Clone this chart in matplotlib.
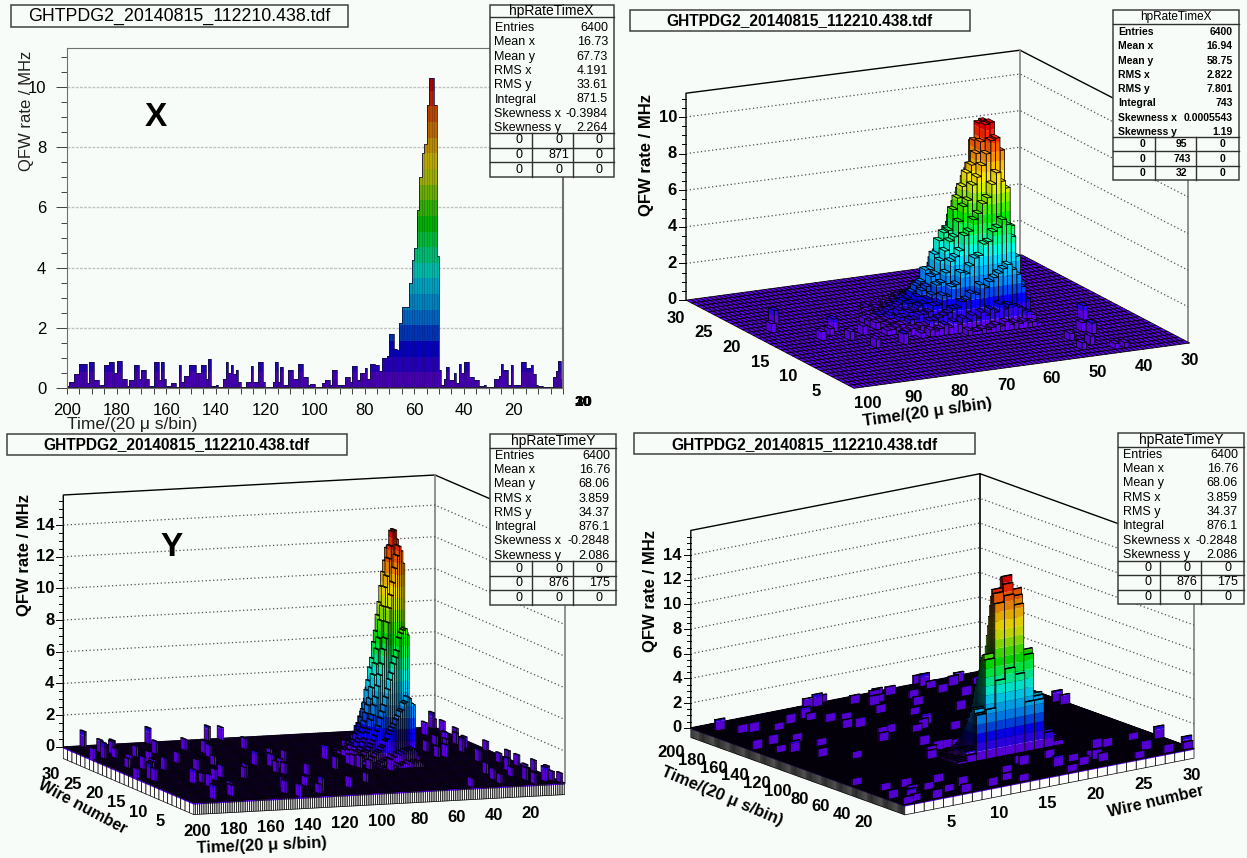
import matplotlib
matplotlib.use('Agg')
import matplotlib.pyplot as plt
import numpy as np
from matplotlib.collections import PolyCollection
from matplotlib.patches import Rectangle

plt.rcParams['font.family'] = ['Liberation Sans', 'DejaVu Sans']

BG = '#f8fcf9'
FILE_NAME = 'GHTPDG2_20140815_112210.438.tdf'
TIME_TITLE = 'Time/(20 \u03bc s/bin)'
Z_TITLE = 'QFW rate / MHz'

# rainbow palette, low to high
PALETTE = ['#6000f0', '#3000f8', '#0800ff', '#0048f4', '#0088ff', '#00b4ff', '#00dcff',
           '#00ffe4', '#00ff98', '#00ff48', '#00f000', '#44f000', '#90f000', '#d8f000',
           '#ffe800', '#ffc000', '#ff9000', '#ff6000', '#ff2800', '#f00000']

# top left panel: rate per time bin, first value is the bin at t = 200
hist_x = [
    .05, .2, .2, .45, .45, .8, .8, .8, .15, .85, .85, .25, .25, .1, .1, .75, .75, .85, .85, .5,
    .9, .9, .3, .3, .05, .25, .25, .75, .75, .3, .6, .6, .3, .05, .05, .85, .85, .25, .85, .3,
    .05, .05, .15, .15, .03, .75, .2, .4, .4, .78, .78, .78, .5, .5, .78, .78, .3, .95, .05, .05,
    .1, .03, .03, .3, .85, .5, .75, .45, .6, .2, .03, .03, .2, .2, .72, .2, .2, .85, .85, .2,
    .03, .03, .03, .2, .85, .2, .7, .1, .1, .6, .6, .3, .3, .8, .8, .35, .35, .1, .12, .12,
    .03, .03, .03, .15, .25, .25, .1, .6, .6, .1, .1, .1, .35, .35, .2, .72, .72, .25, .5, .5,
    .65, .3, .8, .8, .75, .75, .55, 1.0, 1.0, 1.05, 1.8, 1.8, 1.3, 1.26, 2.15, 2.7, 2.7, 2.7, 3.5, 4.25,
    4.65, 5.9, 7.0, 7.8, 8.1, 9.4, 10.3, 10.3, 9.4, 4.4, .6, .1, .3, .7, .25, .25, .5, .15, .8, .5,
    .85, .85, .35, .35, .28, .28, .05, .05, .1, .03, .03, .03, .3, .3, .4, .8, .6, .6, .1, .75,
    .1, .1, .1, .85, .85, .65, .65, .75, .45, .1, .08, .08, .03, .03, .03, .03, .35, .55, .9, .3,
]

# top right panel: peak rates, one row per time bin from t = 50, one column per wire from 10
x_peak_t0 = 50
x_peak_w0 = 10
x_peak = [
    [.2, .5, 1.2, 2.0, 3.1, 3.9, 4.3, 4.2, 3.6, 2.6, 1.5, .7, .2, .0],
    [.3, .7, 1.9, 3.4, 4.9, 6.6, 7.4, 7.1, 5.9, 4.4, 2.7, 1.1, .4, .1],
    [.3, .8, 2.6, 4.5, 7.0, 8.9, 9.3, 9.0, 7.6, 5.6, 3.3, 1.7, .5, .2],
    [.4, 1.0, 2.9, 5.2, 7.4, 9.6, 10.3, 10.2, 8.5, 6.3, 3.7, 1.9, .6, .2],
    [.3, 1.1, 3.2, 5.5, 7.9, 9.5, 10.2, 10.1, 8.9, 6.2, 3.6, 1.8, .7, .2],
    [.4, 1.2, 3.0, 5.1, 7.3, 8.8, 9.3, 9.2, 7.4, 4.9, 2.9, 1.4, .5, .3],
    [.3, 1.0, 2.8, 4.9, 6.6, 8.2, 8.7, 7.9, 6.6, 4.3, 2.7, 1.2, .5, .2],
    [.5, 1.3, 2.6, 4.4, 6.3, 7.6, 8.1, 7.2, 5.7, 4.1, 2.3, 1.3, .5, .3],
    [.3, .9, 2.4, 4.3, 5.8, 7.2, 7.7, 6.6, 5.4, 3.5, 2.2, 1.0, .4, .2],
    [.4, 1.1, 2.1, 3.7, 5.5, 6.4, 7.0, 5.9, 4.6, 3.3, 1.8, 1.1, .4, .2],
    [.3, .8, 2.3, 3.6, 4.9, 6.1, 6.4, 5.2, 4.2, 2.7, 1.8, .8, .5, .2],
    [.2, 1.0, 1.8, 3.2, 4.7, 5.3, 5.8, 4.6, 3.4, 2.6, 1.4, .9, .3, .1],
    [.3, .7, 1.9, 2.8, 3.9, 4.5, 4.7, 3.7, 2.9, 2.0, 1.4, .6, .3, .2],
    [.2, .9, 1.6, 2.9, 3.6, 4.3, 4.6, 3.4, 2.5, 1.9, 1.0, .7, .3, .1],
    [.2, .6, 1.5, 2.3, 3.4, 3.8, 4.2, 3.0, 2.3, 1.5, 1.0, .5, .3, .1],
    [.3, .8, 1.2, 2.2, 2.8, 3.3, 3.5, 2.5, 1.8, 1.4, .8, .6, .0, .0],
    [.0, .5, 1.2, 1.7, 2.3, 2.6, 2.7, 1.9, 1.5, 1.1, .7, .4, .3, .0],
    [.0, .7, 1.0, 1.8, 2.2, 2.5, 2.7, 1.8, 1.3, 1.0, .6, .5, .0, .0],
    [.0, .4, .9, 1.3, 1.7, 2.0, 2.1, 1.4, 1.1, .8, .6, .3, .0, .0],
    [.0, .6, .8, 1.3, 1.5, 1.8, 1.9, 1.2, 1.0, .7, .5, .4, .0, .0],
    [.0, .4, .7, 1.0, 1.3, 1.5, 1.6, 1.0, .8, .6, .4, .0, .0, .0],
    [.0, .3, .7, .9, 1.2, 1.2, 1.3, .8, .7, .5, .4, .3, .0, .0],
    [.0, .4, .5, .9, 1.0, 1.2, 1.2, .7, .6, .4, .3, .0, .0, .0],
    [.0, .0, .5, .7, .9, .8, 1.0, .6, .5, .3, .3, .0, .0, .0],
    [.0, .3, .4, .7, .7, .9, .8, .6, .4, .4, .0, .0, .0, .0],
    [.0, .0, .4, .5, .7, .6, .8, .5, .4, .3, .3, .0, .0, .0],
    [.0, .0, .3, .5, .5, .7, .6, .5, .3, .3, .0, .0, .0, .0],
    [.0, .0, .0, .4, .5, .5, .6, .3, .3, .0, .0, .0, .0, .0],
    [.0, .0, .0, .3, .4, .4, .5, .3, .0, .0, .0, .0, .0, .0],
    [.0, .0, .0, .3, .0, .4, .3, .3, .0, .0, .0, .0, .0, .0],
]
x_noise_wire = [20, 18, 14, 16, 15, 10, 7, 5, 6, 2, 3, 1, 1, 10, 10, 13, 14]
x_noise_time = [95, 98, 92, 87, 89, 40, 44, 49, 43, 50, 47, 44, 42, 85, 79, 87, 83]
x_noise_rate = [.8, .5, .5, .7, .4, .8, .5, .4, .6, .4, .5, .3, .3, .5, .6, .5, .5]

# bottom panels: same histogram seen from two sides, columns are wires from 11
y_peak_t0 = 50
y_peak_w0 = 11
y_peak = [
    [.2, .6, 3.7, 4.0, 6.2, 7.0, 6.4, 4.0, 4.0, 1.2, .4],
    [.3, .9, 3.8, 8.0, 12.4, 12.9, 12.0, 7.8, 4.3, 1.4, .5],
    [.4, 1.0, 4.1, 8.4, 13.2, 13.8, 12.7, 8.2, 4.5, 1.5, .6],
    [.3, 1.1, 4.2, 8.3, 13.5, 14.4, 13.2, 8.0, 4.4, 1.6, .5],
    [.4, 1.0, 3.9, 8.1, 12.9, 14.3, 13.1, 7.9, 4.2, 1.4, .6],
    [.3, 1.0, 3.8, 7.8, 12.1, 13.4, 12.3, 7.4, 4.1, 1.5, .4],
    [.3, .9, 3.4, 7.0, 11.2, 12.6, 11.6, 7.1, 3.7, 1.3, .5],
    [.4, 1.0, 3.3, 6.6, 10.4, 11.5, 10.7, 6.5, 3.6, 1.2, .4],
    [.2, .8, 3.0, 6.2, 9.6, 10.8, 9.7, 6.2, 3.2, 1.3, .5],
    [.3, .9, 2.8, 5.6, 8.7, 9.6, 8.9, 5.4, 3.1, 1.1, .3],
    [.3, .7, 2.5, 5.2, 7.7, 8.7, 7.9, 5.1, 2.7, 1.0, .4],
    [.2, .8, 2.3, 4.6, 7.0, 7.6, 7.2, 4.4, 2.6, 1.0, .3],
    [.2, .6, 2.1, 4.1, 6.1, 6.9, 6.2, 4.2, 2.2, .8, .4],
    [.3, .6, 1.9, 3.6, 5.4, 6.0, 5.6, 3.5, 2.1, .9, .2],
    [.1, .7, 1.6, 3.2, 4.7, 5.3, 4.8, 3.2, 1.7, .7, .3],
    [.2, .5, 1.5, 2.8, 4.0, 4.5, 4.2, 2.7, 1.6, .6, .2],
    [.1, .5, 1.2, 2.3, 3.5, 3.8, 3.4, 2.4, 1.3, .7, .2],
    [.2, .4, 1.1, 2.0, 2.9, 3.4, 3.0, 2.0, 1.2, .5, .1],
    [.1, .4, .9, 1.7, 2.6, 2.9, 2.5, 1.8, .9, .5, .2],
    [.1, .3, .8, 1.4, 2.0, 2.4, 2.1, 1.4, .9, .4, .1],
    [.0, .3, .7, 1.2, 1.8, 2.0, 1.7, 1.3, .7, .3, .1],
    [.1, .2, .5, 1.0, 1.4, 1.7, 1.5, 1.0, .6, .3, .0],
    [.0, .2, .5, .8, 1.2, 1.3, 1.1, .9, .4, .2, .1],
    [.0, .1, .3, .7, .9, 1.1, .9, .6, .4, .2, .0],
    [.0, .1, .3, .5, .7, .8, .8, .5, .3, .1, .0],
    [.0, .0, .2, .4, .6, .6, .5, .4, .2, .1, .0],
]
y_noise_wire = [1, 2, 3, 5, 7, 9, 12, 10, 15, 17, 17, 19, 23, 23, 20, 27, 24, 17, 19, 21, 19, 17, 14, 11,
                11, 5, 4, 2, 1, 3, 5, 10, 12, 14, 13, 11, 10, 1, 3, 1, 3, 7, 5, 6, 4, 9, 12, 12, 15, 17,
                17, 19, 21, 23, 21, 19, 24, 27, 26, 24, 29, 27, 29, 29, 21, 0,
                29, 26, 23, 25, 23, 29, 18, 16, 25, 29, 23, 24, 15, 13, 11, 9, 11, 10, 16, 15, 12, 17,
                20, 2, 0, 29, 21, 18, 15, 11, 2, 1, 0, 0, 6, 12]
y_noise_time = [186, 174, 172, 167, 174, 173, 194, 164, 186, 186, 181, 189, 193, 187, 176, 179, 163, 148,
                163, 141, 113, 110, 119, 145, 124, 127, 141, 145, 129, 108, 94, 114, 94, 82, 82, 78, 69,
                31, 30, 3, 1, 13, 8, 1, 18, 3, 17, 1, 32, 14, 1, 8, 19, 32, 8, 18, 31, 34, 13, 1, 28, 1,
                1, 116, 56, 1,
                190, 188, 199, 184, 176, 155, 192, 177, 145, 123, 139, 115, 162, 199, 194, 178, 158, 148,
                128, 122, 126, 88, 70, 125, 142, 2, 14, 31, 28, 8, 15, 7, 15, 49, 27, 81]
y_noise_rate = [.9, .7, .8, .6, .8, .6, 1.0, .7, .7, .8, .6, .7, 1.0, .6, .7, .6, .8, .6, .7, .8, .6, .7,
                .6, .8, .7, .6, .7, .8, .6, .7, .6, .7, .8, .6, .7, .6, .7, .6, .7, .6, .7, .8, .6, .7, .6,
                .7, .8, .6, .7, .9, .6, .7, .6, .8, .7, .6, .7, .6, .8, .6, 1.0, .7, .6, .8, .7, .6,
                1.0, .8, .7, .8, .7, 1.0, .6, .8, .7, .9, .8, .7, .7, .6, .8, .9, .8, .7, .9, .8, .7,
                .9, .7, .9, .8, 1.0, .8, .7, .8, .6, .8, .9, .7, .6, .7, .8]

# stats boxes
stat_names = ['Entries', 'Mean x', 'Mean y', 'RMS x', 'RMS y', 'Integral', 'Skewness x', 'Skewness y']
stats_a = ['6400', '16.73', '67.73', '4.191', '33.61', '871.5', '-0.3984', '2.264']
stats_b = ['6400', '16.94', '58.75', '2.822', '7.801', '743', '0.0005543', '1.19']
stats_c = ['6400', '16.76', '68.06', '3.859', '34.37', '876.1', '-0.2848', '2.086']
table_a = [['0', '0', '0'], ['0', '871', '0'], ['0', '0', '0']]
table_b = [['0', '95', '0'], ['0', '743', '0'], ['0', '32', '0']]
table_c = [['0', '0', '0'], ['0', '876', '175'], ['0', '0', '0']]

wire_ticks = [5, 10, 15, 20, 25, 30]
time_ticks_b = [100, 90, 80, 70, 60, 50, 40, 30]
time_ticks_c = [200, 180, 160, 140, 120, 100, 80, 60, 40, 20]


def shade(color, factor):
    return tuple(c * factor for c in matplotlib.colors.to_rgb(color))


def build_grid(n_wires, n_time, time_of_bin, peak, t0, w0, nw, nt, nr):
    # rates per (wire, bin along the time axis counted from the front corner)
    grid = np.zeros((n_wires, n_time))
    for i, row in enumerate(peak):
        for j, rate in enumerate(row):
            grid[w0 + j, time_of_bin(t0 + i)] = rate
    for w, t, r in zip(nw, nt, nr):
        grid[min(w, n_wires - 1), time_of_bin(t)] = max(r, grid[min(w, n_wires - 1), time_of_bin(t)])
    return grid


def draw_lego(ax, grid, front, e_wire, e_time, z_px, zbase, dz, lw, right_shade=0.88):
    front = np.array(front, dtype=float)
    e_wire = np.array(e_wire, dtype=float)
    e_time = np.array(e_time, dtype=float)

    def proj(w, u, z):
        p = front + w * e_wire + u * e_time
        return (p[0], p[1] - z * z_px)

    polys, faces, edges, widths = [], [], [], []

    def add_side(a, b, low, high, factor):
        # colour bands first, the outline goes over them
        if high <= low:
            return
        z = low
        while z < high - 1e-9:
            if z < -0.12:
                z2 = min(high, -0.12)
                col = '#ffffff'
            else:
                k = int(max(z, 0) / dz + 1e-6)
                z2 = min(high, (k + 1) * dz)
                col = shade(PALETTE[min(k, len(PALETTE) - 1)], factor)
            polys.append([proj(*a, z), proj(*b, z), proj(*b, z2), proj(*a, z2)])
            faces.append(col)
            edges.append('none')
            widths.append(0)
            z = z2
        polys.append([proj(*a, low), proj(*b, low), proj(*b, high), proj(*a, high)])
        faces.append('none')
        edges.append('black')
        widths.append(lw)

    nw, nu = grid.shape
    for w in range(nw - 1, -1, -1):
        for u in range(nu - 1, -1, -1):
            h = grid[w, u]
            low_w = grid[w - 1, u] if w > 0 else zbase
            low_u = grid[w, u - 1] if u > 0 else zbase
            add_side((w, u), (w, u + 1), low_w, h, 1.0)
            add_side((w, u), (w + 1, u), low_u, h, right_shade)
            k = min(int(h / dz), len(PALETTE) - 1)
            polys.append([proj(w, u, h), proj(w + 1, u, h), proj(w + 1, u + 1, h), proj(w, u + 1, h)])
            faces.append(PALETTE[k])
            edges.append('black')
            widths.append(lw)
    ax.add_collection(PolyCollection(polys, facecolors=faces, edgecolors=edges, linewidths=widths, zorder=3))
    return proj


def draw_walls(ax, left, back, right, z_px, ztop, zmax_tick, back_color='#808080'):
    # box edges, dotted gridlines on the two back walls, ticks on the left edge
    lx, ly = left
    bx, by = back
    rx, ry = right
    top = ztop * z_px
    ax.plot([lx, lx, bx, rx], [ly, ly - top, by - top, ry - top], color='black', lw=1.0, zorder=1)
    ax.plot([bx, bx], [by, by - top], color=back_color, lw=1.2, zorder=1)
    ax.plot([rx, rx], [ry, ry - top], color='#808080', lw=1.2, zorder=1)
    for z in range(2, zmax_tick + 2, 2):
        ax.plot([lx, bx, rx], [ly - z * z_px, by - z * z_px, ry - z * z_px], color='#505050',
                lw=0.9, ls=(0, (1, 2)), zorder=1)
    for z in np.arange(0, ztop, 0.5):
        size = 7 if z % 2 == 0 else 4
        ax.plot([lx - size, lx], [ly - z * z_px, ly - z * z_px], color='black', lw=0.7, zorder=1)
    for z in range(0, zmax_tick + 2, 2):
        ax.text(lx - 9, ly - z * z_px, str(z), ha='right', va='center', fontsize=12, fontweight='bold', zorder=2)


def title_box(ax, x0, x1, y0, y1, size, bold=True):
    ax.add_patch(Rectangle((x0, y0), x1 - x0, y1 - y0, fc=BG, ec='#404040', lw=1.1, zorder=5))
    ax.text((x0 + x1) / 2, (y0 + y1) / 2 + 0.5, FILE_NAME, ha='center', va='center', fontsize=size,
            fontweight='bold' if bold else 'normal', zorder=6)


def stats_box(ax, x0, x1, ys, name, values, table, size, bold=False):
    # ys: top, header line, first row, row step, table top line, table step, bottom
    top, head, first, step, ttop, tstep = ys
    weight = 'bold' if bold else 'normal'
    bottom = ttop + 3 * tstep
    ax.add_patch(Rectangle((x0, top), x1 - x0, bottom - top, fc=BG, ec='#404040', lw=1.1, zorder=5))
    ax.plot([x0, x1], [head, head], color='#303030', lw=1.0, zorder=6)
    ax.text((x0 + x1) / 2, (top + head) / 2, name, ha='center', va='center', fontsize=size + 1, zorder=6)
    for i, (n, v) in enumerate(zip(stat_names, values)):
        y = first + i * step
        ax.text(x0 + 5, y, n, ha='left', va='center', fontsize=size, fontweight=weight, zorder=6)
        ax.text(x1 - 6, y, v, ha='right', va='center', fontsize=size, fontweight=weight, zorder=6)
    for i in range(3):
        ax.plot([x0, x1], [ttop + i * tstep] * 2, color='#303030', lw=1.0, zorder=6)
        for j, v in zip([30, 69, 110], table[i]):
            ax.text(x0 + j, ttop + (i + 0.5) * tstep, v, ha='center', va='center', fontsize=size,
                    fontweight=weight, zorder=6)
    for v in [42, 83.5]:
        ax.plot([x0 + v, x0 + v], [ttop, bottom], color='#303030', lw=1.0, zorder=6)


fig = plt.figure(figsize=(12.47, 8.58), dpi=100, facecolor=BG)

# ---- top left: plain histogram ----
ax1 = fig.add_axes([67 / 1247, 1 - 388 / 858, 496 / 1247, 340 / 858], facecolor=BG)
values = np.array(hist_x)
centers = 200 - np.arange(len(values)) - 0.5
dz1 = 10.4 / 20
for k, col in enumerate(PALETTE):
    low = k * dz1
    heights = np.clip(values, low, low + dz1) - low
    ax1.bar(centers, heights, width=1.0, bottom=low, color=shade(col, 0.72), linewidth=0)
# faint bin lines inside the histogram, then the outline
ax1.vlines(200 - np.arange(len(values)), 0, values, color='#101040', lw=0.4, alpha=0.35)
step_x = np.repeat(200 - np.arange(len(values) + 1), 2)[1:-1]
ax1.plot(step_x, np.repeat(values, 2), color='#101040', lw=0.7, alpha=0.8)
ax1.axhline(0, color='#202020', lw=1.2)
ax1.set_xlim(200, 0)
ax1.set_ylim(0, 11.3)
ax1.set_xticks([200, 180, 160, 140, 120, 100, 80, 60, 40, 20])
ax1.set_xticks(np.arange(0, 201, 5), minor=True)
ax1.set_yticks([0, 2, 4, 6, 8, 10])
ax1.set_yticks(np.arange(0, 11.3, 0.5), minor=True)
ax1.tick_params(which='major', length=8, width=0.7, labelsize=12, color='#404040')
ax1.tick_params(which='minor', length=4, width=0.7, color='#404040')
ax1.tick_params(axis='x', which='major', length=4, pad=7)
ax1.tick_params(axis='y', which='major', pad=7)
ax1.grid(True, axis='y', color='#c0c4c0', lw=1.0, ls=(0, (2, 1)))
ax1.set_axisbelow(True)
for side in ['top', 'left', 'right', 'bottom']:
    ax1.spines[side].set_color('#707070')
ax1.spines['right'].set_linewidth(1.5)

# overlay in image pixels for everything else
ax = fig.add_axes([0, 0, 1, 1], facecolor='none')
ax.set_xlim(0, 1247)
ax.set_ylim(858, 0)
ax.axis('off')

ax.text(26, 111, Z_TITLE, rotation=90, ha='center', va='center', fontsize=12, color='#202020')
ax.text(67, 425, TIME_TITLE, ha='left', va='center', fontsize=12.5, color='#202020')
ax.text(156, 117, 'X', ha='center', va='center', fontsize=24, fontweight='bold')
for lab in ['10', '20', '30']:
    ax.text(583, 402, lab, ha='center', va='center', fontsize=11, fontweight='bold')
title_box(ax, 10.7, 348, 5, 26.7, 12.8, bold=False)
stats_box(ax, 489.5, 614, (5, 17, 28, 14.3, 133, 14.7), 'hpRateTimeX', stats_a, table_a, 9)

# ---- top right: lego view of the peak ----
grid_b = build_grid(30, 73, lambda t: int(102 - t), x_peak, x_peak_t0, x_peak_w0,
                    x_noise_wire, x_noise_time, x_noise_rate)
zp_b = 18.3
draw_walls(ax, (686, 300), (1020, 257), (1188, 343.3), zp_b, 11.3, 10)
proj_b = draw_lego(ax, grid_b, (854, 388.3), (-5.6, -2.94), (4.6, -0.62), zp_b, 0, 10.4 / 20, 0.55)
for w in wire_ticks:
    x, y = proj_b(w, 0, 0)
    ax.text(x - 10, y + 18, str(w), ha='center', va='center', fontsize=12, fontweight='bold')
for t in time_ticks_b:
    x, y = proj_b(0, 102.6 - t, 0)
    ax.text(x + 2, y + 17, str(t), ha='center', va='center', fontsize=12, fontweight='bold')
ax.text(647, 155.5, Z_TITLE, rotation=90, ha='center', va='center', fontsize=12, fontweight='bold')
ax.text(928, 413, TIME_TITLE, rotation=8, ha='center', va='center', fontsize=12, fontweight='bold')
title_box(ax, 629.6, 970, 10, 31, 11.2)
stats_box(ax, 1112.8, 1238.8, (10, 24, 32, 14.3, 137, 14.4), 'hpRateTimeX', stats_b, table_b, 7.5, bold=True)

# ---- bottom left: full time range seen from the t = 200 corner ----
grid_c = build_grid(30, 200, lambda t: int(199 - t), y_peak, y_peak_t0, y_peak_w0,
                    y_noise_wire, y_noise_time, y_noise_rate)
zp_c = 15.83
draw_walls(ax, (63.3, 746.7), (435, 726.7), (564.6, 782.7), zp_c, 15.9, 14)
proj_c = draw_lego(ax, grid_c, (193.8, 802.7), (-4.35, -1.867), (1.854, -0.1), zp_c, -0.75, 14.6 / 20, 0.5)
for w in wire_ticks:
    x, y = proj_c(w, 0, 0)
    ax.text(x - 12, y + 28, str(w), ha='center', va='center', fontsize=12, fontweight='bold')
for t in time_ticks_c:
    x, y = proj_c(0, 200 - t, 0)
    ax.text(x + 3, y + 28.5, str(t), ha='center', va='center', fontsize=12, fontweight='bold')
ax.text(24.5, 555, Z_TITLE, rotation=90, ha='center', va='center', fontsize=12, fontweight='bold')
ax.text(262, 846, TIME_TITLE, rotation=2.5, ha='center', va='center', fontsize=12, fontweight='bold')
ax.text(82, 807, 'Wire number', rotation=-28, ha='center', va='center', fontsize=11.5, fontweight='bold')
ax.text(172, 548, 'Y', ha='center', va='center', fontsize=24, fontweight='bold')
title_box(ax, 6.7, 347, 434, 455, 11.2)
stats_box(ax, 489.5, 616, (434.3, 448, 455.7, 14.3, 561.3, 14.5), 'hpRateTimeY', stats_c, table_c, 9)

# ---- bottom right: same data seen from the t = 0 corner ----
grid_d = np.zeros_like(grid_c)
grid_d[:, :] = grid_c[:, ::-1]
zp_d = 12.33
draw_walls(ax, (690.8, 727.7), (980, 671), (1194, 748.3), zp_d, 16, 14, back_color='black')
proj_d = draw_lego(ax, grid_d, (904.8, 805), (9.64, -1.89), (-1.07, -0.387), zp_d, -0.8, 14.6 / 20, 0.5)
for w in wire_ticks:
    x, y = proj_d(w, 0, 0)
    ax.text(x - 2, y + 27, str(w), ha='center', va='center', fontsize=12, fontweight='bold')
for t in time_ticks_c:
    x, y = proj_d(0, t, 0)
    ax.text(x - 20, y + 25, str(t), ha='center', va='center', fontsize=12, fontweight='bold')
ax.text(651, 590.7, Z_TITLE, rotation=90, ha='center', va='center', fontsize=12, fontweight='bold')
ax.text(722, 796, TIME_TITLE, rotation=-22.7, ha='center', va='center', fontsize=12, fontweight='bold')
ax.text(1156, 801.7, 'Wire number', rotation=13, ha='center', va='center', fontsize=11.5, fontweight='bold')
title_box(ax, 633.6, 975, 433.3, 454.3, 11.2)
stats_box(ax, 1117.6, 1244, (433.3, 447.3, 454.7, 14.3, 560.7, 14.5), 'hpRateTimeY', stats_c, table_c, 9)

fig.savefig('out.png', dpi=100, facecolor=BG)
